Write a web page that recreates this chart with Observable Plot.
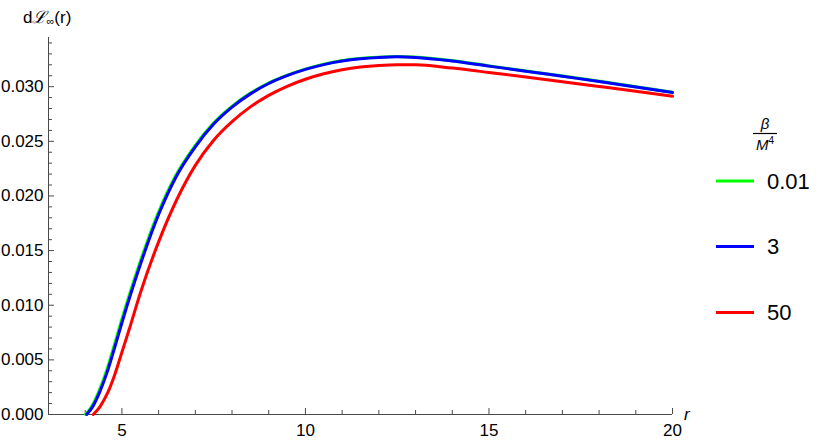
<!DOCTYPE html>
<html>
<head>
<meta charset="utf-8">
<script src="https://cdn.jsdelivr.net/npm/d3@7"></script>
<script src="https://cdn.jsdelivr.net/npm/@observablehq/plot@0.6"></script>
<style>
  html, body { margin: 0; padding: 0; background: #fff; }
  #chart { width: 830px; height: 445px; }
</style>
</head>
<body>
<div id="chart"></div>
<script>
// ---- data ----
const seriesNames = ["0.01", "3", "50"];
const seriesColors = ["#00ff00", "#0000ff", "#ff0000"];

const rGreen = [4.01, 4.17, 4.37, 4.57, 4.77, 4.97, 5.47, 5.97, 6.47, 6.97, 7.47, 7.97, 8.47, 8.97, 9.47, 9.97, 10.47, 10.97, 11.47, 11.97, 12.47, 12.97, 13.97, 14.97, 15.97, 16.97, 17.97, 18.97, 20.0];
const vGreen = [0, 0.0007, 0.0021, 0.0039, 0.0061, 0.0084, 0.0137, 0.0183, 0.0219, 0.0245, 0.02658, 0.02813, 0.02934, 0.03029, 0.03101, 0.03158, 0.03204, 0.03237, 0.03258, 0.0327, 0.03276, 0.03271, 0.03239, 0.03192, 0.03146, 0.03099, 0.03052, 0.03002, 0.02949];

const rBlue = [4.04, 4.2, 4.4, 4.6, 4.8, 5.0, 5.5, 6.0, 6.5, 7.0, 7.5, 8.0, 8.5, 9.0, 9.5, 10.0, 10.5, 11.0, 11.5, 12.0, 12.5, 13.0, 14.0, 15.0, 16.0, 17.0, 18.0, 19.0, 20.0];
const vBlue = [0, 0.0007, 0.0021, 0.0039, 0.0061, 0.0084, 0.0137, 0.0183, 0.0219, 0.0245, 0.02658, 0.02813, 0.02934, 0.03029, 0.03101, 0.03158, 0.03202, 0.03234, 0.03255, 0.03267, 0.03273, 0.03268, 0.03235, 0.03188, 0.03142, 0.03095, 0.03048, 0.02998, 0.02946];

const rRed = [4.22, 4.4, 4.6, 4.8, 5.0, 5.2, 5.5, 6.0, 6.5, 7.0, 7.5, 8.0, 8.5, 9.0, 9.5, 10.0, 10.5, 11.0, 11.5, 12.0, 12.5, 13.0, 14.0, 15.0, 16.0, 17.0, 18.0, 19.0, 20.0];
const vRed = [0, 0.0007, 0.0019, 0.0036, 0.0057, 0.0078, 0.0111, 0.0158, 0.0197, 0.0228, 0.0251, 0.0268, 0.02815, 0.0292, 0.03003, 0.03068, 0.03118, 0.03154, 0.03179, 0.03194, 0.03201, 0.03201, 0.0317, 0.0313, 0.03088, 0.03045, 0.03002, 0.02958, 0.02912];

const xMajor = [5, 10, 15, 20];
const xMinor = [4, 6, 7, 8, 9, 11, 12, 13, 14, 16, 17, 18, 19];
const yMajor = [0, 0.005, 0.010, 0.015, 0.020, 0.025, 0.030];
const yMinor = [0.001, 0.002, 0.003, 0.004, 0.006, 0.007, 0.008, 0.009, 0.011, 0.012, 0.013, 0.014,
                0.016, 0.017, 0.018, 0.019, 0.021, 0.022, 0.023, 0.024, 0.026, 0.027, 0.028, 0.029,
                0.031, 0.032, 0.033, 0.034];

// ---- build table ----
const rows = [];
[[rGreen, vGreen], [rBlue, vBlue], [rRed, vRed]].forEach(([rs, vs], k) => {
  rs.forEach((r, i) => rows.push({ r, v: vs[i], s: seriesNames[k] }));
});

const W = 830, H = 445;
const mL = 48, mR = 158, mT = 37, mB = 31;
const plotW = W - mL - mR, plotH = H - mT - mB;
const axisColor = "#4a4a4a";
const font = "'Liberation Sans', Arial, Helvetica, sans-serif";

const chart = Plot.plot({
  width: W,
  height: H,
  marginLeft: mL,
  marginRight: mR,
  marginTop: mT,
  marginBottom: mB,
  style: { fontFamily: font, fontSize: "17px", background: "#fff", color: "#000" },
  x: { domain: [3, 20] },
  y: { domain: [0, 0.0345] },
  color: { domain: seriesNames, range: seriesColors },
  marks: [
    Plot.axisX({ ticks: xMajor, tickSize: 0, tickPadding: 9, label: null, fontSize: 17 }),
    Plot.axisY({ ticks: yMajor, tickSize: 0, tickPadding: 5, tickFormat: d3.format(".3f"), label: null, fontSize: 17 }),
    Plot.tickX(xMinor, { x: d => d, insetTop: plotH - 4, stroke: axisColor }),
    Plot.tickX(xMajor, { x: d => d, insetTop: plotH - 6, stroke: axisColor }),
    Plot.tickY(yMinor, { y: d => d, insetRight: plotW - 4, stroke: axisColor }),
    Plot.tickY(yMajor, { y: d => d, insetRight: plotW - 6, stroke: axisColor }),
    Plot.ruleX([3], { stroke: axisColor }),
    Plot.ruleY([0], { stroke: axisColor }),
    Plot.line(rows, { x: "r", y: "v", z: "s", stroke: "s", strokeWidth: 3, curve: "monotone-x" })
  ]
});

document.getElementById("chart").appendChild(chart);

// ---- annotations: axis labels and legend ----
const svg = d3.select(chart);

const yl = svg.append("text")
  .attr("x", 23).attr("y", 23).attr("text-anchor", "start")
  .attr("font-family", font).attr("font-size", 17).attr("fill", "#000");
yl.append("tspan").text("d");
yl.append("tspan").text("ℒ").attr("font-style", "italic");
yl.append("tspan").text("∞").attr("font-size", 11).attr("dy", 2);
yl.append("tspan").text("(r)").attr("dy", -2);

svg.append("text")
  .attr("x", 684).attr("y", 420).attr("text-anchor", "start")
  .attr("font-family", font).attr("font-size", 17).attr("font-style", "italic")
  .text("r");

// legend title: beta over M^4
const cx = 765;
svg.append("text").attr("x", cx).attr("y", 129)
  .attr("text-anchor", "middle").attr("font-family", font)
  .attr("font-size", 15).attr("font-style", "italic").text("β");
svg.append("line").attr("x1", 753).attr("x2", 777).attr("y1", 133.5).attr("y2", 133.5)
  .attr("stroke", "#000").attr("stroke-width", 1.2);
const mt = svg.append("text").attr("x", cx).attr("y", 150)
  .attr("text-anchor", "middle").attr("font-family", font).attr("font-size", 15);
mt.append("tspan").text("M").attr("font-style", "italic");
mt.append("tspan").text("4").attr("font-size", 10).attr("dy", -6);

const legY = [181, 246.5, 312.5];
seriesNames.forEach((name, i) => {
  svg.append("line")
    .attr("x1", 716).attr("x2", 754)
    .attr("y1", legY[i]).attr("y2", legY[i])
    .attr("stroke", seriesColors[i]).attr("stroke-width", 3);
  svg.append("text")
    .attr("x", 767).attr("y", legY[i])
    .attr("dy", "0.36em").attr("text-anchor", "start")
    .attr("font-family", font).attr("font-size", 22).attr("fill", "#000")
    .text(name);
});
</script>
</body>
</html>
